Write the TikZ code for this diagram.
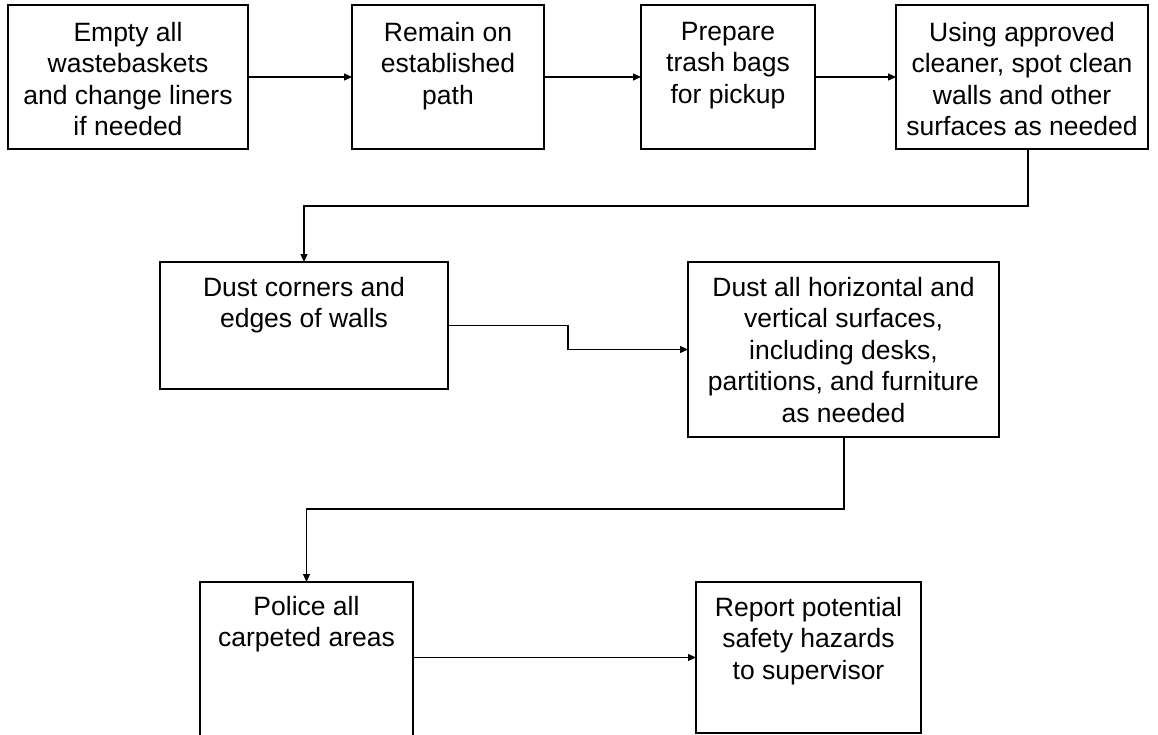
\documentclass[tikz,border=0pt]{standalone}
\usepackage{fontspec}
\setmainfont{Liberation Sans}
\usetikzlibrary{arrows.meta}
\begin{document}
\begin{tikzpicture}[x=1pt,y=-1pt,
  box/.style={draw=black, line width=1.2pt, rectangle, inner sep=0pt, outer sep=0pt, anchor=north west},
  txt/.style={anchor=north, align=center, inner sep=0pt, font=\fontsize{26.5pt}{31.5pt}\selectfont},
  conn/.style={draw=black, line width=1.2pt, -{Triangle[length=8pt,width=7pt]}}]
\clip (0,0) rectangle (1158,734);
\fill[white] (0,0) rectangle (1158,734);
% row 1
\node[box, minimum width=240pt, minimum height=144pt] (b1) at (8,5) {};
\node[box, minimum width=192pt, minimum height=144pt] (b2) at (352,5) {};
\node[box, minimum width=174pt, minimum height=144pt] (b3) at (641,5) {};
\node[box, minimum width=252pt, minimum height=144pt] (b4) at (896,5) {};
% row 2
\node[box, minimum width=288pt, minimum height=127pt] (b5) at (160,262) {};
\node[box, minimum width=311pt, minimum height=175pt] (b6) at (688,262) {};
% row 3
\node[box, minimum width=213pt, minimum height=170pt] (b7) at (200,582) {};
\node[box, minimum width=225pt, minimum height=151pt] (b8) at (696,582) {};
% texts
\node[txt] (t1) at ([yshift=-17pt]b1.north) {Empty all\\wastebaskets\\and change liners\\if needed};
\node[txt] (t2) at ([yshift=-17pt]b2.north) {Remain on\\established\\path};
\node[txt] (t3) at ([yshift=-17pt]b3.north) {Prepare\\trash bags\\for pickup};
\node[txt] (t4) at ([yshift=-17pt]b4.north) {Using approved\\cleaner, spot clean\\walls and other\\surfaces as needed};
\node[txt] (t5) at ([yshift=-15pt]b5.north) {Dust corners and\\edges of walls};
\node[txt] (t6) at ([yshift=-15pt]b6.north) {Dust all horizontal and\\vertical surfaces,\\including desks,\\partitions, and furniture\\as needed};
\node[txt] (t7) at ([yshift=-14pt]b7.north) {Police all\\carpeted areas};
\node[txt] (t8) at ([yshift=-15pt]b8.north) {Report potential\\safety hazards\\to supervisor};
% connectors
\draw[conn] (b1.east) -- (b2.west);
\draw[conn] (b2.east) -- (b3.west);
\draw[conn] (b3.east) -- (b4.west);
\coordinate (c1) at (1028,206);
\draw[conn] (c1 |- b4.south) -- (c1) -| (b5.north);
\draw[conn] (b5.east) -- ++(120,0) |- (b6.west);
\coordinate (c2) at (844,509);
\draw[conn] (c2 |- b6.south) -- (c2) -| (b7.north);
\draw[conn] (b7.east |- b8.west) -- (b8.west);
\end{tikzpicture}
\end{document}
